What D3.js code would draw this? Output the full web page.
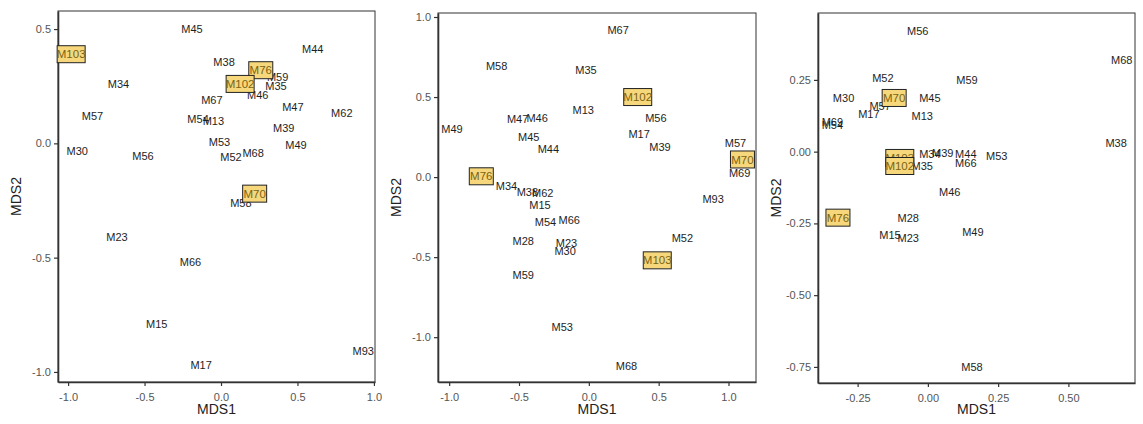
<!DOCTYPE html>
<html>
<head>
<meta charset="utf-8">
<script src="https://cdn.jsdelivr.net/npm/d3@7"></script>
<style>
  body { margin: 0; background: #fff; }
  svg { display: block; }
</style>
</head>
<body>
<div id="chart"></div>
<script>
const W = 1143, H = 424;

// highlighted samples get a yellow label box
const boxed = ['M70', 'M76', 'M102', 'M103'];

// panel 1
const p1Names = ['M103','M45','M34','M57','M30','M56','M38','M76','M102','M59','M35','M46','M67','M44','M47','M62','M54','M13','M39','M53','M49','M52','M68','M58','M70','M23','M66','M15','M17','M93'];
const p1X = [-0.98,-0.19,-0.67,-0.84,-0.94,-0.51,0.02,0.26,0.125,0.37,0.36,0.24,-0.06,0.60,0.47,0.79,-0.15,-0.05,0.41,-0.01,0.49,0.065,0.21,0.13,0.22,-0.68,-0.20,-0.42,-0.13,0.93];
const p1Y = [0.39,0.50,0.26,0.12,-0.035,-0.057,0.355,0.32,0.26,0.29,0.25,0.21,0.19,0.41,0.16,0.13,0.105,0.097,0.065,0.005,-0.01,-0.06,-0.045,-0.26,-0.22,-0.41,-0.52,-0.79,-0.97,-0.91];
const p1XTicks = [-1.0, -0.5, 0.0, 0.5, 1.0];
const p1YTicks = [-1.0, -0.5, 0.0, 0.5];

// panel 2
const p2Names = ['M58','M49','M47','M46','M45','M44','M76','M34','M38','M62','M15','M54','M66','M28','M23','M30','M59','M53','M67','M35','M102','M13','M56','M17','M39','M57','M70','M69','M93','M52','M103','M68'];
const p2X = [-0.66,-0.98,-0.51,-0.37,-0.43,-0.29,-0.77,-0.59,-0.44,-0.33,-0.35,-0.31,-0.14,-0.47,-0.16,-0.17,-0.47,-0.19,0.21,-0.02,0.35,-0.04,0.48,0.36,0.51,1.05,1.10,1.08,0.89,0.67,0.49,0.27];
const p2Y = [0.69,0.30,0.36,0.37,0.25,0.175,0.005,-0.056,-0.094,-0.10,-0.175,-0.28,-0.27,-0.40,-0.41,-0.46,-0.61,-0.94,0.92,0.67,0.50,0.42,0.37,0.27,0.19,0.21,0.11,0.025,-0.14,-0.38,-0.52,-1.18];
const p2XTicks = [-1.0, -0.5, 0.0, 0.5, 1.0];
const p2YTicks = [-1.0, -0.5, 0.0, 0.5, 1.0];

// panel 3
const p3Names = ['M56','M52','M30','M45','M57','M17','M13','M69','M54','M34','M35','M39','M44','M66','M53','M46','M59','M68','M38','M28','M15','M23','M49','M58','M70','M103','M102','M76'];
const p3X = [-0.036,-0.16,-0.30,0.007,-0.17,-0.21,-0.02,-0.34,-0.34,0.007,-0.02,0.053,0.135,0.135,0.245,0.078,0.139,0.69,0.67,-0.07,-0.135,-0.07,0.16,0.157,-0.12,-0.10,-0.10,-0.32];
const p3Y = [0.42,0.257,0.187,0.187,0.16,0.13,0.125,0.104,0.093,-0.01,-0.05,-0.004,-0.008,-0.04,-0.015,-0.14,0.25,0.32,0.03,-0.23,-0.29,-0.30,-0.28,-0.75,0.187,-0.022,-0.05,-0.23];
const p3XTicks = [-0.25, 0.00, 0.25, 0.50];
const p3YTicks = [-0.75, -0.50, -0.25, 0.00, 0.25];

const panels = [
  { names: p1Names, xs: p1X, ys: p1Y, xt: p1XTicks, yt: p1YTicks, fmt: '.1f',
    left: 58, right: 375, top: 11, bottom: 382, xd: [-1.066, 1.007], yd: [-1.044, 0.579] },
  { names: p2Names, xs: p2X, ys: p2Y, xt: p2XTicks, yt: p2YTicks, fmt: '.1f',
    left: 438, right: 756, top: 13, bottom: 382, xd: [-1.08, 1.197], yd: [-1.28, 1.025] },
  { names: p3Names, xs: p3X, ys: p3Y, xt: p3XTicks, yt: p3YTicks, fmt: '.2f',
    left: 818, right: 1135, top: 13, bottom: 383, xd: [-0.391, 0.737], yd: [-0.806, 0.483] }
];

const svg = d3.select('#chart').append('svg')
  .attr('width', W)
  .attr('height', H);

const fmtNum = (f) => (v) => d3.format(f)(v).replace('−', '-');

panels.forEach((p) => {
  const x = d3.scaleLinear().domain(p.xd).range([p.left, p.right]);
  const y = d3.scaleLinear().domain(p.yd).range([p.bottom, p.top]);

  // panel border
  svg.append('rect')
    .attr('x', p.left).attr('y', p.top)
    .attr('width', p.right - p.left).attr('height', p.bottom - p.top)
    .attr('fill', 'none')
    .attr('stroke', '#333')
    .attr('stroke-width', 1);

  const gx = svg.append('g')
    .attr('transform', 'translate(0,' + p.bottom + ')')
    .call(d3.axisBottom(x).tickValues(p.xt).tickSize(4).tickSizeOuter(0).tickFormat(fmtNum(p.fmt)));
  const gy = svg.append('g')
    .attr('transform', 'translate(' + p.left + ',0)')
    .call(d3.axisLeft(y).tickValues(p.yt).tickSize(4).tickSizeOuter(0).tickFormat(fmtNum(p.fmt)));

  [gx, gy].forEach((g) => {
    g.select('.domain').attr('stroke', '#333').attr('stroke-width', 1.6);
    g.selectAll('.tick line').attr('stroke', '#333').attr('stroke-width', 1.2);
    g.selectAll('.tick text')
      .attr('fill', '#555')
      .style('font-family', 'Arial, "Liberation Sans", sans-serif')
      .style('font-size', '11px');
  });
  gx.selectAll('.tick text').attr('dy', '1.1em');

  svg.append('text')
    .attr('x', (p.left + p.right) / 2)
    .attr('y', 414)
    .attr('text-anchor', 'middle')
    .style('font-family', 'Arial, "Liberation Sans", sans-serif')
    .style('font-size', '14px')
    .attr('fill', '#222')
    .text('MDS1');

  svg.append('text')
    .attr('transform', 'translate(' + (p.left - 37) + ',' + ((p.top + p.bottom) / 2) + ') rotate(-90)')
    .attr('text-anchor', 'middle')
    .style('font-family', 'Arial, "Liberation Sans", sans-serif')
    .style('font-size', '14px')
    .attr('fill', '#222')
    .text('MDS2');

  const pts = p.names.map((n, i) => ({ name: n, x: p.xs[i], y: p.ys[i] }));
  const plain = pts.filter((d) => boxed.indexOf(d.name) < 0);
  const hi = pts.filter((d) => boxed.indexOf(d.name) >= 0);

  svg.append('g').selectAll('text')
    .data(plain)
    .enter()
    .append('text')
    .attr('x', (d) => x(d.x))
    .attr('y', (d) => y(d.y))
    .attr('dy', '0.35em')
    .attr('text-anchor', 'middle')
    .style('font-family', '"Liberation Sans Narrow", Arial, sans-serif')
    .style('font-size', '11px')
    .attr('fill', '#1e1e1e')
    .text((d) => d.name);

  const lab = svg.append('g').selectAll('g')
    .data(hi)
    .enter()
    .append('g')
    .attr('transform', (d) => 'translate(' + x(d.x) + ',' + y(d.y) + ')');

  lab.append('rect')
    .attr('x', (d) => d.name.length > 3 ? -14 : -12)
    .attr('y', -8.5)
    .attr('width', (d) => d.name.length > 3 ? 28 : 24)
    .attr('height', 17)
    .attr('fill', '#f6d77c')
    .attr('stroke', '#222')
    .attr('stroke-width', 1);

  lab.append('text')
    .attr('dy', '0.35em')
    .attr('text-anchor', 'middle')
    .style('font-family', '"Liberation Sans Narrow", Arial, sans-serif')
    .style('font-size', '11.5px')
    .attr('fill', '#7a6414')
    .text((d) => d.name);
});
</script>
</body>
</html>
